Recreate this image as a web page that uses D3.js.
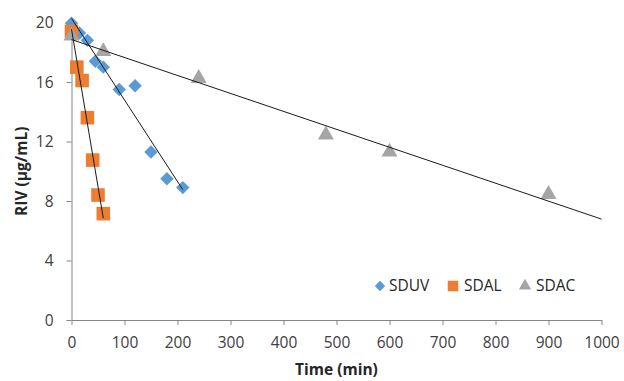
<!DOCTYPE html>
<html>
<head>
<meta charset="utf-8">
<script src="https://cdn.jsdelivr.net/npm/d3@7/dist/d3.min.js"></script>
<style>
  html, body { margin: 0; padding: 0; background: #fff; }
  svg { display: block; font-family: "Open Sans", "Noto Sans", sans-serif; }
</style>
</head>
<body>
<svg id="chart" width="624" height="381"></svg>
<script>
// Concentration of RIV over time for three degradation conditions
const seriesNames = ["SDUV", "SDAL", "SDAC"];

const sduvTime  = [0, 15, 30, 45, 60, 90, 120, 150, 180, 210];
const sduvConc  = [19.95, 19.3, 18.8, 17.4, 17.0, 15.5, 15.75, 11.3, 9.5, 8.9];

const sdalTime  = [0, 10, 20, 30, 40, 50, 60];
const sdalConc  = [19.4, 17.0, 16.1, 13.6, 10.75, 8.4, 7.15];

const sdacTime  = [0, 60, 240, 480, 600, 900];
const sdacConc  = [19.1, 18.05, 16.25, 12.45, 11.3, 8.45];

// Trend lines run to the last sample, except SDAC which is projected forward
const trendEnd  = [210, 60, 1000];

const xTicks = [0, 100, 200, 300, 400, 500, 600, 700, 800, 900, 1000];
const yTicks = [0, 4, 8, 12, 16, 20];

const colors = ["#5B9BD5", "#ED7D31", "#A5A5A5"];

const svg = d3.select("#chart");
const margin = { left: 71.5, right: 22.5, top: 22.5, bottom: 61 };
const W = 624, H = 381;
const fontSize = "15.5px";

const x = d3.scaleLinear().domain([0, 1000]).range([margin.left, W - margin.right]);
const y = d3.scaleLinear().domain([0, 20]).range([H - margin.bottom, margin.top]);

const axisColor = "#868686";

// X axis
const gx = svg.append("g")
  .attr("transform", `translate(0,${y(0)})`)
  .call(d3.axisBottom(x).tickValues(xTicks).tickFormat(d3.format("d"))
    .tickSize(5).tickPadding(12).tickSizeOuter(0));
// Y axis
const gy = svg.append("g")
  .attr("transform", `translate(${x(0)},0)`)
  .call(d3.axisLeft(y).tickValues(yTicks).tickFormat(d3.format("d"))
    .tickSize(5).tickPadding(13).tickSizeOuter(0));

[gx, gy].forEach(g => {
  g.select(".domain").attr("stroke", axisColor).attr("stroke-width", 1);
  g.selectAll(".tick line").attr("stroke", axisColor);
  g.selectAll(".tick text")
    .attr("fill", "#404040")
    .style("font-size", fontSize)
    .style("font-family", "\"Open Sans\", \"Noto Sans\", sans-serif");
});
gy.selectAll(".tick text").attr("dy", "0.35em");

// Axis titles
svg.append("text")
  .attr("x", (x(0) + x(1000)) / 2)
  .attr("y", 375)
  .attr("text-anchor", "middle")
  .attr("font-weight", "bold")
  .attr("font-size", fontSize)
  .attr("fill", "#262626")
  .text("Time (min)");

svg.append("text")
  .attr("transform", `translate(27,${(y(0) + y(20)) / 2}) rotate(-90)`)
  .attr("text-anchor", "middle")
  .attr("font-weight", "bold")
  .attr("font-size", fontSize)
  .attr("fill", "#262626")
  .text("RIV (µg/mL)");

const series = [
  { name: seriesNames[0], t: sduvTime, c: sduvConc, symbol: d3.symbolDiamond2, size: 115 },
  { name: seriesNames[1], t: sdalTime, c: sdalConc, symbol: d3.symbolSquare, size: 185 },
  { name: seriesNames[2], t: sdacTime, c: sdacConc, symbol: d3.symbolTriangle, size: 110 }
];

// Least-squares linear fit
function linFit(xs, ys) {
  const n = xs.length;
  const mx = d3.mean(xs), my = d3.mean(ys);
  let sxy = 0, sxx = 0;
  for (let i = 0; i < n; i++) {
    sxy += (xs[i] - mx) * (ys[i] - my);
    sxx += (xs[i] - mx) * (xs[i] - mx);
  }
  const slope = sxy / sxx;
  return { slope, intercept: my - slope * mx };
}

// Markers
series.forEach((s, i) => {
  const sym = d3.symbol().type(s.symbol).size(s.size);
  svg.append("g").selectAll("path")
    .data(s.t.map((t, k) => [t, s.c[k]]))
    .join("path")
    .attr("d", sym)
    .attr("fill", colors[i])
    .attr("transform", d => `translate(${x(d[0])},${y(d[1])})`);
});

// Trend lines drawn on top of the markers
series.forEach((s, i) => {
  const f = linFit(s.t, s.c);
  const x0 = 0, x1 = trendEnd[i];
  svg.append("line")
    .attr("x1", x(x0)).attr("y1", y(f.intercept + f.slope * x0))
    .attr("x2", x(x1)).attr("y2", y(f.intercept + f.slope * x1))
    .attr("stroke", "#1a1a1a")
    .attr("stroke-width", 1);
});

// Legend
const legend = svg.append("g").attr("transform", "translate(380,286)");
const legendX = [0, 73, 145];
const textOffset = [9, 11, 11];
series.forEach((s, i) => {
  const g = legend.append("g").attr("transform", `translate(${legendX[i]},0)`);
  g.append("path")
    .attr("d", d3.symbol().type(s.symbol).size(s.size * 0.6)())
    .attr("fill", colors[i]);
  g.append("text")
    .attr("x", textOffset[i])
    .attr("y", 0)
    .attr("dy", "0.35em")
    .attr("font-size", fontSize)
    .attr("fill", "#262626")
    .text(s.name);
});
</script>
</body>
</html>
